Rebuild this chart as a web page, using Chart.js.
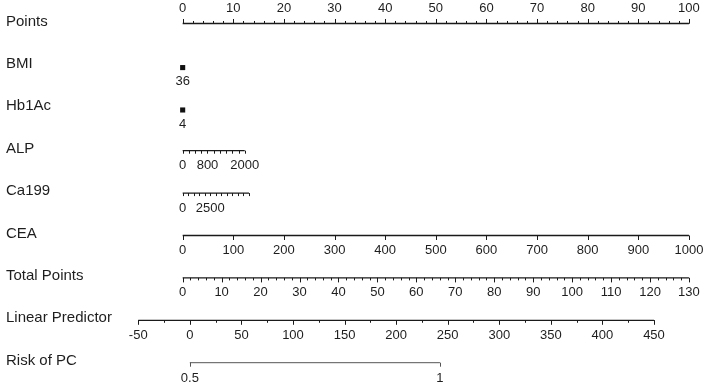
<!DOCTYPE html>
<html>
<head>
<meta charset="utf-8">
<script src="https://cdn.jsdelivr.net/npm/chart.js@4"></script>
<style>
    html, body { margin: 0; padding: 0; background: #fff; }
    #wrap { width: 708px; height: 390px; position: relative; }
</style>
</head>
<body>
<div id="wrap"><canvas id="nomo"></canvas></div>
<script>
// Row names, top to bottom
const rowNames = ['Points', 'BMI', 'Hb1Ac', 'ALP', 'Ca199', 'CEA', 'Total Points', 'Linear Predictor', 'Risk of PC'];

// Tick labels
const pointsLabels = [0, 10, 20, 30, 40, 50, 60, 70, 80, 90, 100];
const bmiValues = [36];
const hb1acValues = [4];
const alpLabels = [0, 800, 2000];
const ca199Labels = [0, 2500];
const ceaLabels = [0, 100, 200, 300, 400, 500, 600, 700, 800, 900, 1000];
const totalLabels = [0, 10, 20, 30, 40, 50, 60, 70, 80, 90, 100, 110, 120, 130];
const lpLabels = [-50, 0, 50, 100, 150, 200, 250, 300, 350, 400, 450];
const riskLabels = [0.5, 1];
const riskAtLP = [0, 242.5];   // linear predictor where each risk tick sits

// Axis ranges and the points they span
const alpRange = [0, 2000],   alpPoints = [0, 12.26];
const ca199Range = [0, 6000], ca199Points = [0, 13.1];
const ceaRange = [0, 1000],   ceaPoints = [0, 100];
const totalRange = [0, 130],  totalPoints = [0, 100];
const lpRange = [-50, 450],   lpPoints = [-8.77, 93.09];

const FONT = '"Liberation Sans", Arial, Helvetica, sans-serif';
const INK = '#1e1e1e';

const lerp = (v, r, p) => p[0] + (v - r[0]) / (r[1] - r[0]) * (p[1] - p[0]);
const range = (a, b, step) => { const out = []; for (let v = a; v <= b + 1e-9; v += step) out.push(v); return out; };

// Axis descriptions built from the arrays above
const axes = [
    { row: 0, r: [0, 100], p: [0, 100], labels: pointsLabels, minor: range(0, 100, 2), up: true },
    { row: 3, r: alpRange, p: alpPoints, labels: alpLabels, minor: range(0, 2000, 200), small: true },
    { row: 4, r: ca199Range, p: ca199Points, labels: ca199Labels, minor: range(0, 6000, 500), small: true },
    { row: 5, r: ceaRange, p: ceaPoints, labels: ceaLabels, minor: [] },
    { row: 6, r: totalRange, p: totalPoints, labels: totalLabels, minor: range(0, 130, 2) },
    { row: 7, r: lpRange, p: lpPoints, labels: lpLabels, minor: range(-50, 450, 25) },
];
// Risk axis: placed via the linear predictor
const riskAxis = {
    row: 8,
    labels: riskLabels,
    at: riskAtLP.map(v => lerp(v, lpRange, lpPoints))
};

const datasets = [];
axes.forEach(a => {
    datasets.push({
        data: [{ x: lerp(a.r[0], a.r, a.p), y: a.row }, { x: lerp(a.r[1], a.r, a.p), y: a.row }],
        showLine: true, borderColor: '#1a1a1a', borderWidth: 1.3, pointRadius: 0
    });
});
datasets.push({
    data: [{ x: riskAxis.at[0], y: riskAxis.row }, { x: riskAxis.at[riskAxis.at.length - 1], y: riskAxis.row }],
    showLine: true, borderColor: '#555', borderWidth: 1, pointRadius: 0
});
// Single-value variables drawn as squares at zero points
datasets.push({
    data: [{ x: 0, y: 1.04 }, { x: 0, y: 2.04 }],
    showLine: false, pointStyle: 'rect', pointRadius: 3.6,
    backgroundColor: '#111', borderColor: '#111', borderWidth: 0
});

const nomogramText = {
    id: 'nomogramText',
    afterDatasetsDraw(chart) {
        const { ctx, scales: { x, y } } = chart;
        ctx.save();
        ctx.fillStyle = INK;
        ctx.strokeStyle = '#1a1a1a';
        ctx.lineWidth = 1;

        // row names
        ctx.font = '15px ' + FONT;
        ctx.textAlign = 'left';
        ctx.textBaseline = 'middle';
        rowNames.forEach((name, i) => ctx.fillText(name, 6, y.getPixelForValue(i) - 2));

        ctx.font = '13px ' + FONT;
        ctx.textAlign = 'center';

        const tick = (px, py, len, up) => {
            const xx = Math.round(px) + 0.5;
            ctx.beginPath();
            ctx.moveTo(xx, py);
            ctx.lineTo(xx, up ? py - len : py + len);
            ctx.stroke();
        };

        axes.forEach(a => {
            const py = y.getPixelForValue(a.row);
            const majorLen = a.small ? 3 : 4.5;
            const minorLen = a.small ? 3 : 2.5;
            a.minor.forEach(v => tick(x.getPixelForValue(lerp(v, a.r, a.p)), py, minorLen, a.up));
            a.labels.forEach(v => {
                const px = x.getPixelForValue(lerp(v, a.r, a.p));
                if (!a.small) tick(px, py, majorLen, a.up);
                ctx.fillText(String(v), px, a.up ? py - 15 : py + 15);
            });
        });

        // risk axis ticks and labels
        const ry = y.getPixelForValue(riskAxis.row);
        ctx.strokeStyle = '#555';
        riskAxis.labels.forEach((v, i) => {
            const px = x.getPixelForValue(riskAxis.at[i]);
            tick(px, ry, 4, false);
            ctx.fillText(String(v), px, ry + 16);
        });

        // labels under the single-value squares
        [[1, bmiValues], [2, hb1acValues]].forEach(([row, vals]) => {
            vals.forEach(v => ctx.fillText(String(v), x.getPixelForValue(0), y.getPixelForValue(row) + 16));
        });
        ctx.restore();
    }
};

new Chart(document.getElementById('nomo'), {
    type: 'scatter',
    data: { datasets },
    options: {
        responsive: true,
        maintainAspectRatio: false,
        animation: false,
        layout: { padding: 0, autoPadding: false },
        plugins: { legend: { display: false }, tooltip: { enabled: false } },
        scales: {
            x: { type: 'linear', min: -36.08, max: 103.76, display: false },
            y: { type: 'linear', min: -0.554, max: 8.644, reverse: true, display: false }
        }
    },
    plugins: [nomogramText]
});
</script>
</body>
</html>
